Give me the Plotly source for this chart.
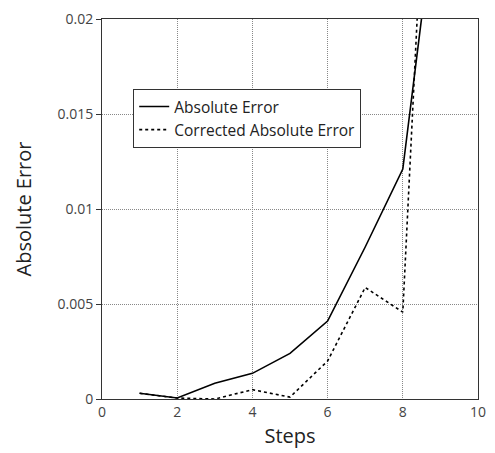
import plotly.graph_objects as go

steps = [1, 2, 3, 4, 5, 6, 7, 8, 9]
abs_error = [0.0003, 0.00005, 0.00083, 0.00135, 0.0024, 0.0041, 0.0080, 0.0121, 0.028]
corr_error = [0.0003, 0.00005, 0.0, 0.00049, 0.0001, 0.0020, 0.00587, 0.00457, 0.045]

fig = go.Figure()
fig.add_trace(go.Scatter(x=steps, y=abs_error, mode="lines", name="Absolute Error",
                         line=dict(color="black", width=1.6)))
fig.add_trace(go.Scatter(x=steps, y=corr_error, mode="lines", name="Corrected Absolute Error",
                         line=dict(color="black", width=1.6, dash="dot")))

axis_common = dict(showline=True, linecolor="#333", linewidth=1, mirror=True,
                   showgrid=True, gridcolor="#888", griddash="1px,1px", gridwidth=1,
                   zeroline=False, tickcolor="#333",
                   tickfont=dict(family="Open Sans", size=14, color="#444"))

fig.update_xaxes(range=[0, 10], tickvals=[0, 2, 4, 6, 8, 10], ticks="",
                 title=dict(text="Steps", font=dict(family="Open Sans", size=20, color="#222"), standoff=9),
                 **axis_common)
fig.update_yaxes(range=[0, 0.02], tickvals=[0, 0.005, 0.01, 0.015, 0.02],
                 ticktext=["0", "0.005", "0.01", "0.015", "0.02"], ticks="outside", ticklen=5,
                 title=dict(text="Absolute Error", font=dict(family="Open Sans", size=20, color="#222"), standoff=20),
                 **axis_common)

fig.update_layout(
    width=495, height=453,
    margin=dict(l=102, r=9, t=16, b=52),
    plot_bgcolor="white", paper_bgcolor="white",
    showlegend=True,
    legend=dict(x=0.083, y=0.816, xanchor="left", yanchor="top",
                bgcolor="white", bordercolor="#333", borderwidth=1,
                font=dict(family="Open Sans", size=15.5, color="#222"),
                tracegroupgap=0, itemwidth=30),
)

fig.write_html("out.html")
